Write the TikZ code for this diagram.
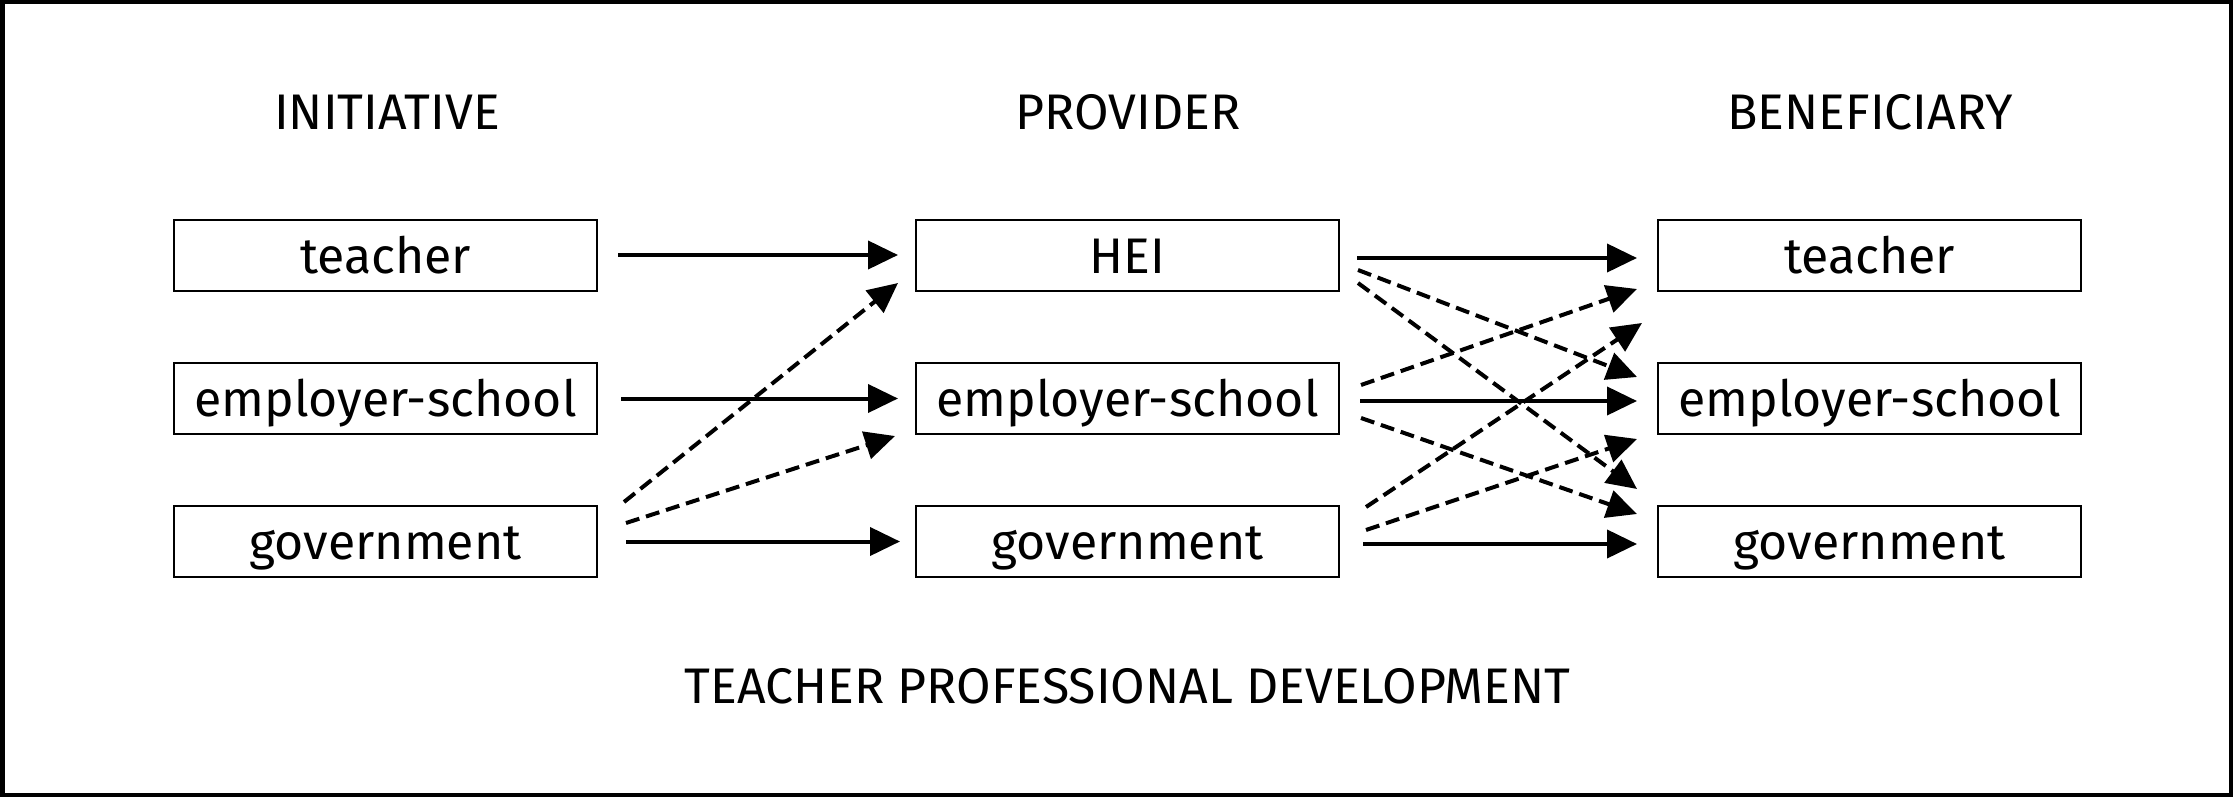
\documentclass[tikz,border=0pt]{standalone}
\usepackage{fontspec}
\setmainfont{Fira Sans}
\usetikzlibrary{arrows.meta}
\begin{document}
\begin{tikzpicture}[x=1pt,y=-1pt,
  every node/.style={font=\fontsize{50}{60}\selectfont},
  boxnode/.style={draw, line width=2pt, minimum width=423pt, minimum height=71pt,
    inner sep=0pt, text height=36pt, text depth=0pt},
  headnode/.style={anchor=base, inner sep=0pt},
  flow/.style={line width=4pt, -{Triangle[length=30pt,width=28pt]}},
  altflow/.style={flow, dash pattern=on 14pt off 7pt}
]
% page and frame
\useasboundingbox (0,0) rectangle (2233,797);
\draw[line width=4.5pt] (2.25,2.25) rectangle (2230.75,794.75);

% column headings
\node[headnode] (hini) at (387,130) {INITIATIVE};
\node[headnode] (hpro) at (1128,130) {PROVIDER};
\node[headnode] (hben) at (1870,130) {BENEFICIARY};

% initiative column
\node[boxnode] (lt) at (385.5,255) {teacher};
\node[boxnode] (le) at (385.5,398.5) {employer-school};
\node[boxnode] (lg) at (385.5,541.5) {government};

% provider column
\node[boxnode] (mh) at (1127.5,255) {HEI};
\node[boxnode] (me) at (1127.5,398.5) {employer-school};
\node[boxnode] (mg) at (1127.5,541.5) {government};

% beneficiary column
\node[boxnode] (rt) at (1869.5,255) {teacher};
\node[boxnode] (re) at (1869.5,398.5) {employer-school};
\node[boxnode] (rg) at (1869.5,541.5) {government};

% caption
\node[headnode] (cap) at (1127.5,703) {TEACHER PROFESSIONAL DEVELOPMENT};

% initiative -> provider (shifts are in canvas direction: positive = up)
\draw[flow] ([xshift=20pt]lt.east) -- ([xshift=-17pt]mh.west);
\draw[flow] ([xshift=23pt]le.east) -- ([xshift=-17pt]me.west);
\draw[flow] ([xshift=28pt]lg.east) -- ([xshift=-15pt]mg.west);
\draw[altflow] ([xshift=26pt,yshift=3pt]lg.north east) -- ([xshift=-17pt,yshift=8.5pt]mh.south west);
\draw[altflow] ([xshift=28pt,yshift=18.5pt]lg.east) -- ([xshift=-20pt,yshift=-1pt]me.south west);

% provider -> beneficiary
\draw[flow] ([xshift=17pt,yshift=-3pt]mh.east) -- ([xshift=-20pt,yshift=-3pt]rt.west);
\draw[altflow] ([xshift=18pt,yshift=-15pt]mh.east) -- ([xshift=-20pt,yshift=21.5pt]re.west);
\draw[altflow] ([xshift=18pt,yshift=-28pt]mh.east) -- ([xshift=-20pt,yshift=16pt]rg.north west);
\draw[altflow] ([xshift=21pt,yshift=13.5pt]me.east) -- ([xshift=-20pt,yshift=2.5pt]rt.south west);
\draw[flow] ([xshift=20pt,yshift=-2.5pt]me.east) -- ([xshift=-20pt,yshift=-2.5pt]re.west);
\draw[altflow] ([xshift=21pt,yshift=-19.5pt]me.east) -- ([xshift=-20pt,yshift=-9pt]rg.north west);
\draw[altflow] ([xshift=26pt,yshift=-2pt]mg.north east) -- ([xshift=-15pt,yshift=-31.5pt]rt.south west);
\draw[altflow] ([xshift=26pt,yshift=11.5pt]mg.east) -- ([xshift=-20pt,yshift=-4pt]re.south west);
\draw[flow] ([xshift=23pt,yshift=-2.5pt]mg.east) -- ([xshift=-20pt,yshift=-2.5pt]rg.west);
\end{tikzpicture}
\end{document}
